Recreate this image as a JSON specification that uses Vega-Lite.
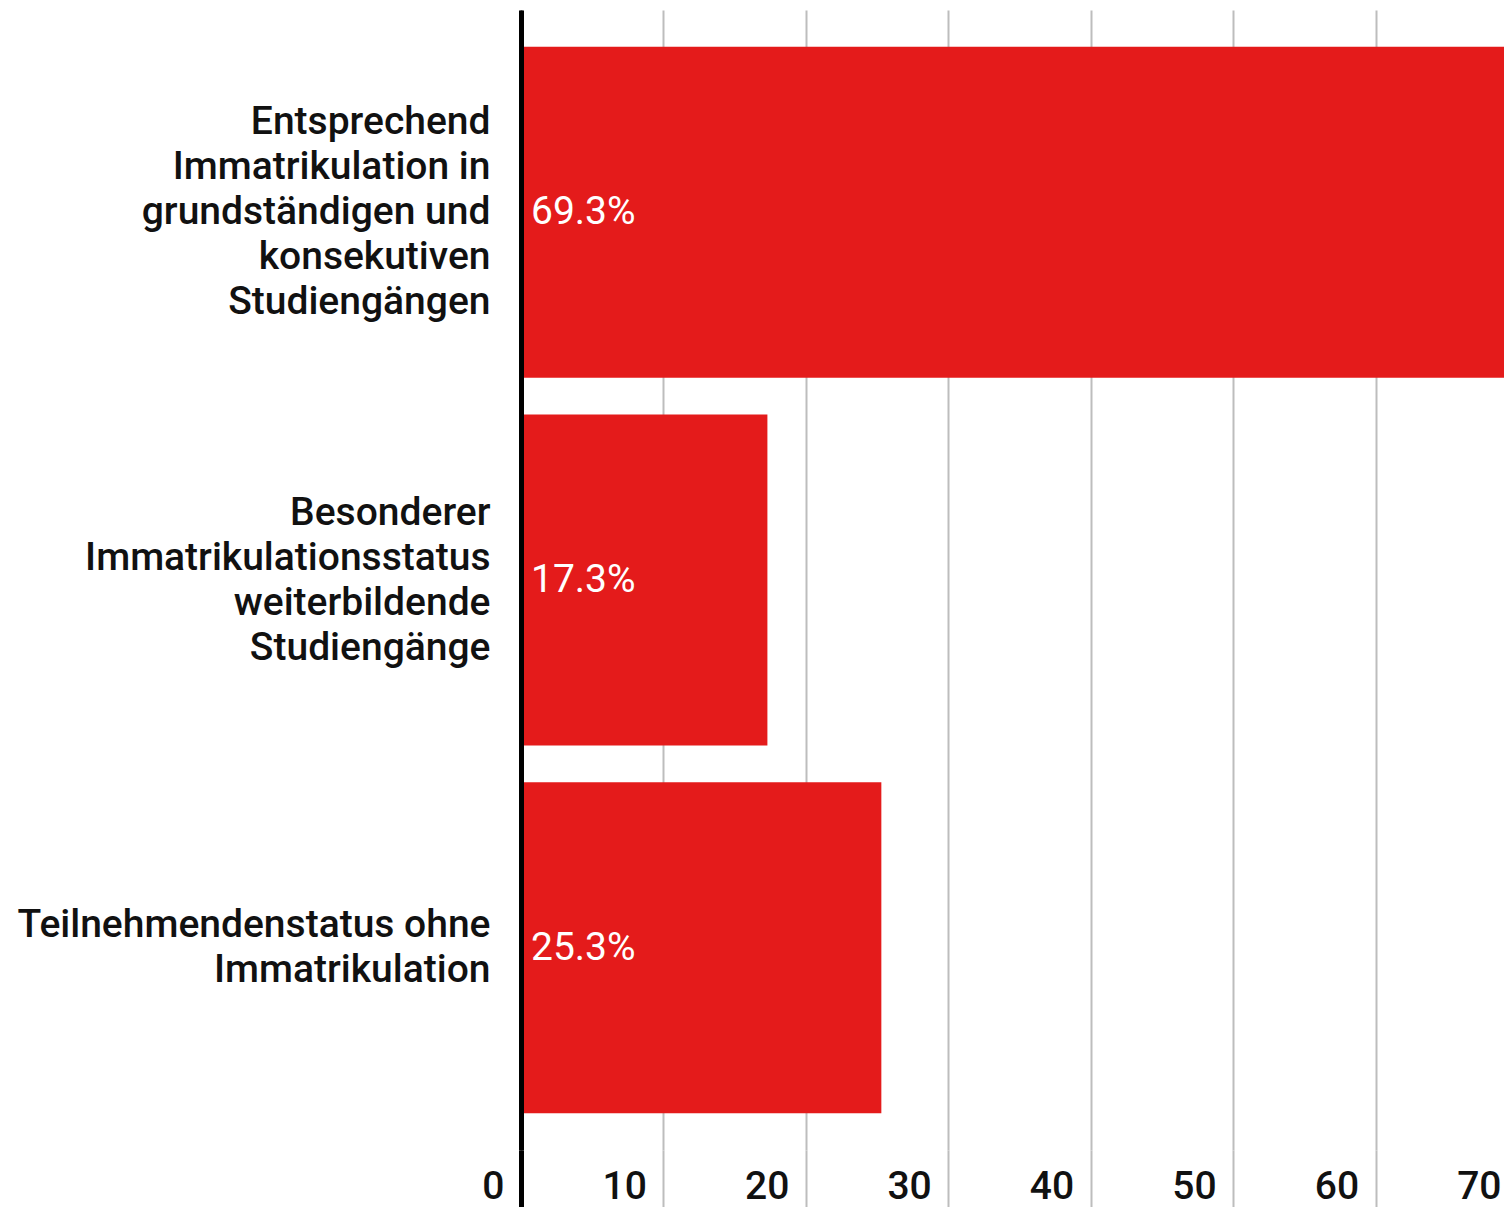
{
  "$schema": "https://vega.github.io/schema/vega-lite/v6.json",
  "autosize": "none",
  "padding": {"left": 521, "top": 10, "right": 0, "bottom": 57},
  "width": 997,
  "height": 1140,
  "background": "white",
  "config": {"view": {"stroke": null}, "font": "Roboto"},
  "data": {"values": [
    {"Status": "Entsprechend|Immatrikulation in|grundständigen und|konsekutiven|Studiengängen", "Anteil": 69.3, "Beschriftung": "69.3%"},
    {"Status": "Besonderer|Immatrikulationsstatus|weiterbildende|Studiengänge", "Anteil": 17.3, "Beschriftung": "17.3%"},
    {"Status": "Teilnehmendenstatus ohne|Immatrikulation", "Anteil": 25.3, "Beschriftung": "25.3%"}
  ]},
  "encoding": {
    "y": {
      "field": "Status", "type": "nominal", "sort": null,
      "scale": {"paddingInner": 0.1, "paddingOuter": 0.1},
      "axis": {
        "title": null, "ticks": false, "domain": true, "domainColor": "#000", "domainWidth": 5,
        "labelExpr": "split(datum.label, '|')",
        "labelFont": "Roboto", "labelFontWeight": 500, "labelFontSize": 39, "labelLineHeight": 45,
        "labelColor": "#111", "labelPadding": 31, "labelLimit": 0, "zindex": 1,
        "labelOffset": {"condition": [
          {"test": "length(split(datum.value, '|')) == 5", "value": -90},
          {"test": "length(split(datum.value, '|')) == 4", "value": -67.5},
          {"test": "length(split(datum.value, '|')) == 2", "value": -22.5}
        ], "value": 0}
      }
    }
  },
  "layer": [
    {
      "mark": {"type": "bar", "color": "#e41b1b"},
      "encoding": {
        "x": {
          "field": "Anteil", "type": "quantitative",
          "scale": {"domain": [0, 70], "nice": false},
          "axis": {
            "title": null, "values": [0, 10, 20, 30, 40, 50, 60, 70], "domain": false,
            "grid": true, "gridWidth": 2,
            "gridColor": {"condition": {"test": "datum.value === 0", "value": "#000"}, "value": "#bdbdbd"},
            "ticks": true, "tickSize": 57,
            "tickWidth": {"condition": {"test": "datum.value === 0", "value": 5}, "value": 2},
            "tickColor": {"condition": {"test": "datum.value === 0", "value": "#000"}, "value": "#bdbdbd"},
            "labelAlign": "right", "labelOffset": -17, "labelPadding": -40, "labelBaseline": "top",
            "labelFont": "Roboto", "labelFontWeight": 500, "labelFontSize": 39, "labelColor": "#111",
            "labelFlush": false, "labelOverlap": false, "zindex": 0
          }
        }
      }
    },
    {
      "mark": {"type": "text", "align": "left", "baseline": "middle", "dx": 10, "color": "white", "font": "Roboto", "fontSize": 39},
      "encoding": {
        "x": {"datum": 0, "type": "quantitative"},
        "text": {"field": "Beschriftung"}
      }
    }
  ]
}
